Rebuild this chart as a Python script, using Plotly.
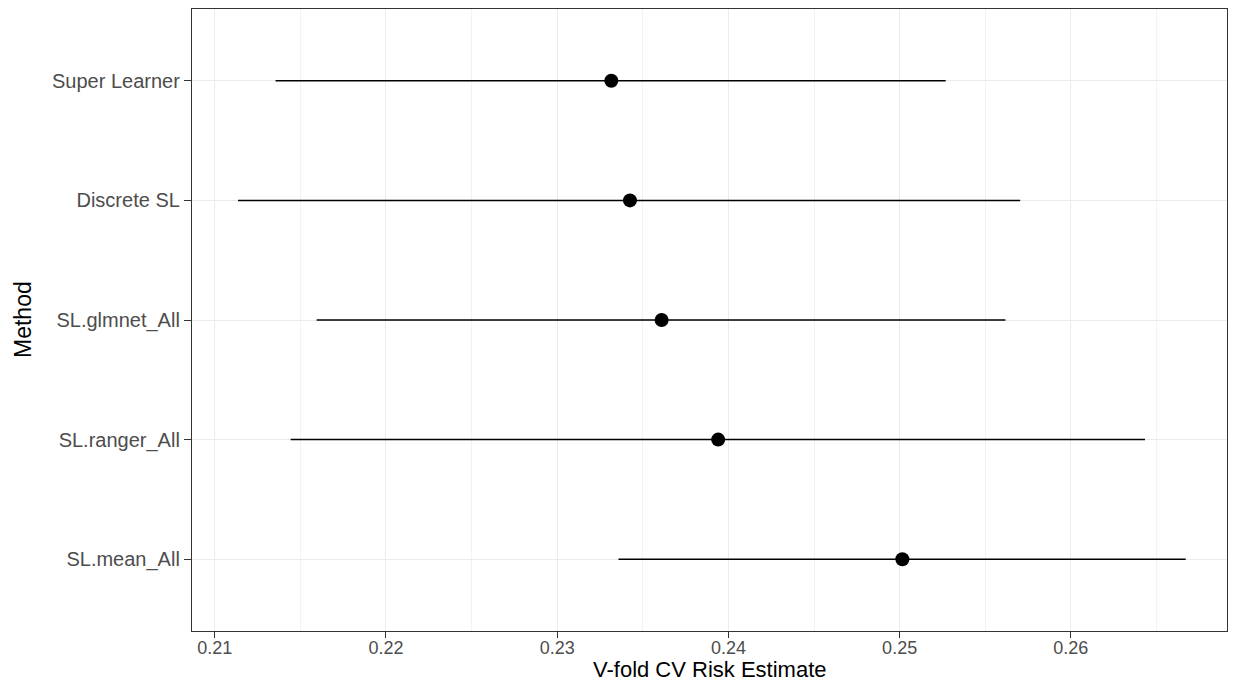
import plotly.graph_objects as go

methods = ["SL.mean_All", "SL.ranger_All", "SL.glmnet_All", "Discrete SL", "Super Learner"]
risk = [0.25016, 0.23940, 0.23610, 0.23425, 0.23316]
ci_low = [0.23358, 0.21443, 0.21595, 0.21136, 0.21355]
ci_high = [0.26671, 0.26433, 0.25618, 0.25704, 0.25269]

x_ticks = [0.21, 0.22, 0.23, 0.24, 0.25, 0.26]
x_tick_labels = ["0.21", "0.22", "0.23", "0.24", "0.25", "0.26"]

x_title = "V-fold CV Risk Estimate"
y_title = "Method"

err_plus = [h - r for h, r in zip(ci_high, risk)]
err_minus = [r - l for r, l in zip(risk, ci_low)]

FONT = "Liberation Sans, Arial, sans-serif"

fig = go.Figure()
fig.add_trace(go.Scatter(
    x=risk, y=methods, mode="markers",
    marker=dict(color="black", size=14),
    error_x=dict(type="data", symmetric=False, array=err_plus, arrayminus=err_minus,
                 width=0, thickness=1.5, color="black"),
    showlegend=False,
))

fig.update_layout(
    width=1235, height=683,
    margin=dict(l=192, r=8, t=9, b=52),
    paper_bgcolor="white", plot_bgcolor="white",
    font=dict(family=FONT),
    annotations=[
        dict(text=x_title, xref="paper", yref="paper", x=0.5, y=0,
             xanchor="center", yanchor="bottom", yshift=-52, showarrow=False, borderpad=0,
             font=dict(size=22, color="black", family=FONT)),
        dict(text=y_title, xref="paper", yref="paper", x=0, y=0.5,
             xanchor="center", yanchor="middle", xshift=-169, textangle=-90, showarrow=False,
             font=dict(size=23, color="black", family=FONT)),
    ],
)
fig.update_xaxes(
    range=[0.20867, 0.26912],
    tickvals=x_ticks, ticktext=x_tick_labels,
    tickfont=dict(size=18, color="#4D4D4D", family=FONT),
    ticks="outside", ticklen=6, tickwidth=1.2, tickcolor="#333333",
    ticklabelstandoff=-6,
    showgrid=True, gridcolor="#EBEBEB", gridwidth=1.2,
    minor=dict(dtick=0.005, tick0=0.205, showgrid=True, gridcolor="#F2F2F2", gridwidth=0.8, ticks=""),
    showline=True, linecolor="#333333", linewidth=1.3, mirror=True,
    zeroline=False, automargin=False,
)
fig.update_yaxes(
    type="category", categoryorder="array", categoryarray=methods,
    range=[-0.6, 4.6],
    tickfont=dict(size=20, color="#4D4D4D", family=FONT),
    ticks="outside", ticklen=7, tickwidth=1.2, tickcolor="#333333",
    showgrid=True, gridcolor="#EBEBEB", gridwidth=1.2,
    showline=True, linecolor="#333333", linewidth=1.3, mirror=True,
    zeroline=False, automargin=False,
)

fig.write_html("out.html", config={"displayModeBar": False},
               post_script="document.body.style.margin='0';document.body.style.overflow='hidden';")
